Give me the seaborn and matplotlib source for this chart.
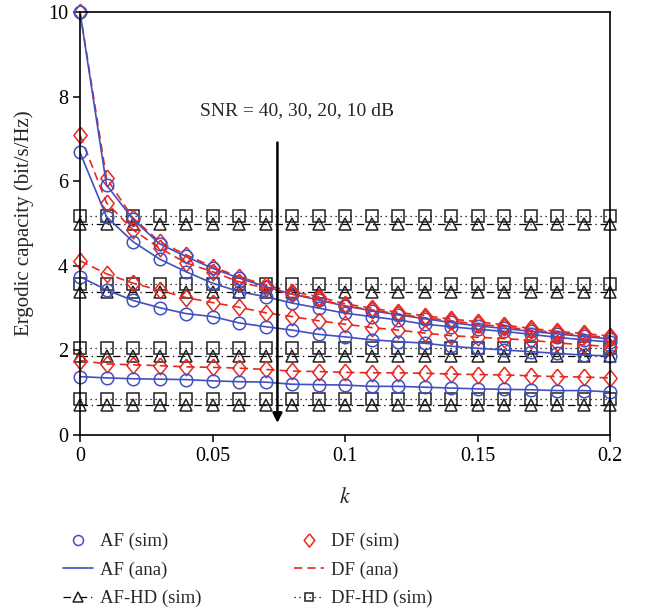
import matplotlib
matplotlib.use("Agg")
import matplotlib.pyplot as plt
import numpy as np
import seaborn as sns

# %% data
k = [0.00, 0.01, 0.02, 0.03, 0.04, 0.05, 0.06, 0.07, 0.08, 0.09, 0.10,
     0.11, 0.12, 0.13, 0.14, 0.15, 0.16, 0.17, 0.18, 0.19, 0.20]

# AF curves, SNR = 40, 30, 20, 10 dB
af_40 = [10.0, 5.91, 5.10, 4.52, 4.22, 3.94, 3.71, 3.51, 3.33, 3.19, 3.05,
         2.94, 2.84, 2.75, 2.66, 2.58, 2.52, 2.45, 2.39, 2.33, 2.27]
af_30 = [6.68, 5.16, 4.57, 4.16, 3.86, 3.59, 3.39, 3.27, 3.12, 3.00, 2.88,
         2.80, 2.72, 2.62, 2.56, 2.50, 2.45, 2.38, 2.31, 2.25, 2.20]
af_20 = [3.74, 3.43, 3.18, 3.01, 2.87, 2.80, 2.65, 2.56, 2.48, 2.38, 2.32,
         2.25, 2.21, 2.17, 2.10, 2.05, 2.01, 1.97, 1.93, 1.89, 1.87]
af_10 = [1.38, 1.35, 1.33, 1.32, 1.31, 1.28, 1.26, 1.25, 1.20, 1.19, 1.18,
         1.15, 1.15, 1.13, 1.11, 1.09, 1.08, 1.07, 1.05, 1.05, 1.02]

# DF curves, SNR = 40, 30, 20, 10 dB
df_40 = [10.0, 6.07, 5.13, 4.57, 4.26, 3.98, 3.74, 3.55, 3.39, 3.27, 3.10,
         3.00, 2.90, 2.82, 2.74, 2.68, 2.60, 2.52, 2.45, 2.40, 2.34]
df_30 = [7.09, 5.49, 4.85, 4.42, 4.07, 3.86, 3.62, 3.47, 3.33, 3.22, 3.05,
         2.96, 2.86, 2.77, 2.70, 2.62, 2.56, 2.48, 2.42, 2.36, 2.30]
df_20 = [4.12, 3.81, 3.59, 3.42, 3.25, 3.13, 3.02, 2.89, 2.80, 2.70, 2.62,
         2.54, 2.48, 2.41, 2.35, 2.31, 2.28, 2.24, 2.18, 2.13, 2.09]
df_10 = [1.76, 1.68, 1.66, 1.64, 1.61, 1.60, 1.58, 1.55, 1.51, 1.50, 1.48,
         1.47, 1.47, 1.46, 1.44, 1.43, 1.42, 1.40, 1.38, 1.37, 1.35]

# half-duplex (flat in k)
af_hd_40 = [4.98] * 21
af_hd_30 = [3.38] * 21
af_hd_20 = [1.87] * 21
af_hd_10 = [0.72] * 21
df_hd_40 = [5.17] * 21
df_hd_30 = [3.57] * 21
df_hd_20 = [2.05] * 21
df_hd_10 = [0.86] * 21

blue = "#4150BF"
red = "#E8281F"
diamond = [(0, 1), (0.8, 0), (0, -1), (-0.8, 0), (0, 1)]

# %% style
sns.set_style("ticks")
plt.rcParams['font.family'] = ['Liberation Serif', 'DejaVu Serif']
plt.rcParams['mathtext.fontset'] = 'stix'

fig = plt.figure(figsize=(6.47, 6.12), dpi=100)
ax = fig.add_axes([80/647, 1-435/612, 530/647, 423/612])

# half-duplex curves
for i, (a, d) in enumerate(zip([af_hd_40, af_hd_30, af_hd_20, af_hd_10],
                               [df_hd_40, df_hd_30, df_hd_20, df_hd_10])):
    sns.lineplot(x=k, y=d, ax=ax, color="black", linestyle=(0, (1, 3)),
                 linewidth=0.9, marker="s", markersize=8, mfc="none",
                 mec="#222222", mew=1.1, clip_on=False,
                 label="DF-HD (sim)" if i == 0 else None)
    sns.lineplot(x=k, y=a, ax=ax, color="black", linestyle=(0, (6, 3, 1, 3)),
                 linewidth=0.9, marker="^", markersize=9, mfc="none",
                 mec="#222222", mew=1.1, clip_on=False,
                 label="AF-HD (sim)" if i == 0 else None)

# full-duplex curves
for i, (a, d) in enumerate(zip([af_40, af_30, af_20, af_10],
                               [df_40, df_30, df_20, df_10])):
    sns.lineplot(x=k, y=d, ax=ax, color=red, linestyle=(0, (5, 3)),
                 linewidth=1.2, label="DF (ana)" if i == 0 else None)
    sns.lineplot(x=k, y=d, ax=ax, color=red, linestyle="none",
                 marker=diamond, markersize=12, mfc="none", mec=red, mew=1.1,
                 clip_on=False, label="DF (sim)" if i == 0 else None)
    sns.lineplot(x=k, y=a, ax=ax, color=blue, linestyle="-",
                 linewidth=1.2, label="AF (ana)" if i == 0 else None)
    sns.lineplot(x=k, y=a, ax=ax, color=blue, linestyle="none",
                 marker="o", markersize=9, mfc="none", mec=blue, mew=1.1,
                 clip_on=False, label="AF (sim)" if i == 0 else None)

# arrow with SNR text
ax.annotate("", xy=(0.0745, 0.22), xytext=(0.0745, 6.98),
            arrowprops=dict(arrowstyle="-|>", color="black", lw=1.8,
                            mutation_scale=14))
ax.text(0.0818, 7.68, "SNR = 40, 30, 20, 10 dB", ha="center", va="center",
        fontsize=14)

# axes
ax.set_xlim(0, 0.2)
ax.set_ylim(0, 10)
ax.set_xticks([0, 0.05, 0.1, 0.15, 0.2])
ax.set_xticklabels(["0", "0.05", "0.1", "0.15", "0.2"])
ax.set_yticks([0, 2, 4, 6, 8, 10])
ax.tick_params(labelsize=14.5, length=5, width=1.1, color="black",
               labelcolor="black")
for s in ax.spines.values():
    s.set_color("black")
    s.set_linewidth(1.2)
ax.set_xlabel("$k$", fontsize=16, labelpad=16)
ax.set_ylabel("Ergodic capacity (bit/s/Hz)", fontsize=15, labelpad=10)

# legend below the axes
handles, labels = ax.get_legend_handles_labels()
ax.get_legend().remove()
order = ["AF (sim)", "AF (ana)", "AF-HD (sim)",
         "DF (sim)", "DF (ana)", "DF-HD (sim)"]
hd = dict(zip(labels, handles))
fig.legend([hd[l] for l in order], order, ncol=2, frameon=False,
           loc="upper left", bbox_to_anchor=(46/647, 1-516/612),
           fontsize=13.5, handlelength=1.6, columnspacing=4.9,
           labelspacing=0.6, handletextpad=0.4, markerscale=0.8)

fig.savefig("out.png", dpi=100)
